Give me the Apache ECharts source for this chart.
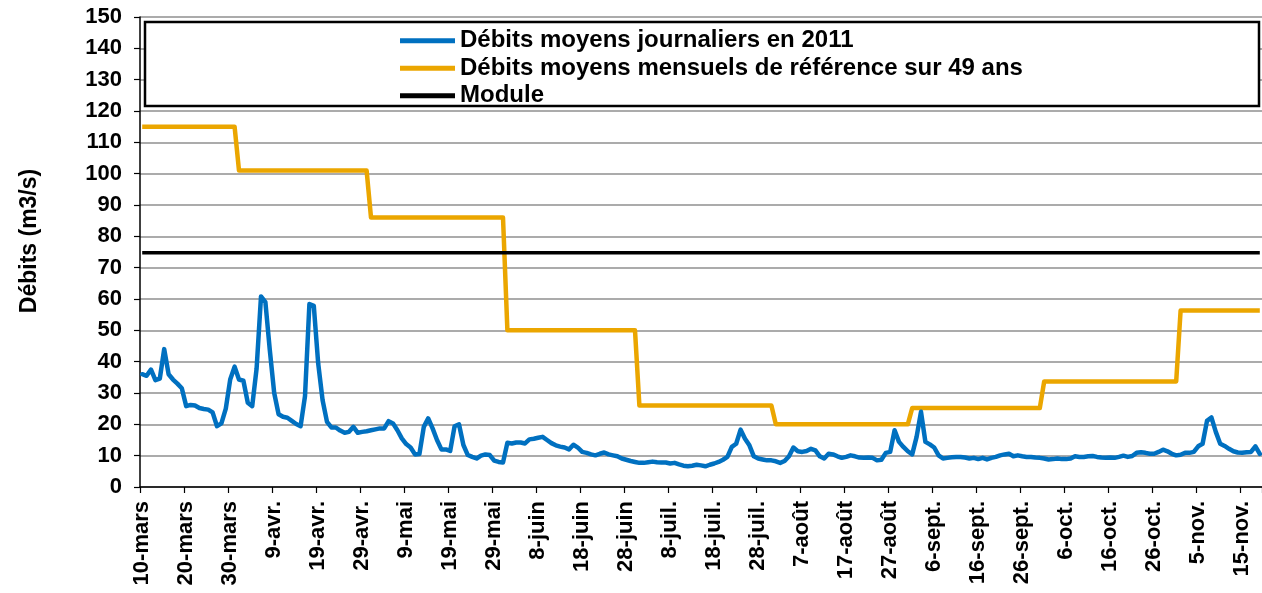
<!DOCTYPE html>
<html>
<head>
<meta charset="utf-8">
<script src="https://cdn.jsdelivr.net/npm/echarts@6/dist/echarts.min.js"></script>
<style>
html,body{margin:0;padding:0;background:#fff;}
#chart{width:1262px;height:593px;}
</style>
</head>
<body>
<div id="chart"></div>
<script>
// ---- data ----
const startYear = 2011, startMonth = 2, startDay = 10; // 10 mars 2011
const monthLabels = {2:'mars',3:'avr.',4:'mai',5:'juin',6:'juil.',7:'août',8:'sept.',9:'oct.',10:'nov.'};
// daily mean flows 2011 (m3/s), from 10 mars
const dailyFlow = [
36,35.5,37.5,34.1,34.6,44,36,34.3,33,31.5,
25.8,26.2,26,25.2,24.9,24.7,23.8,19.4,20.3,25,
34.3,38.4,34.3,33.9,26.9,25.8,37.8,60.8,59,43.7,
30,23.2,22.4,22.1,21.1,20.1,19.4,29,58.4,57.8,
39.4,27.7,20.8,19,19,18,17.3,17.6,19.2,17.3,
17.6,17.8,18.1,18.4,18.7,18.7,21,20.3,18.1,15.5,
13.7,12.6,10.4,10.5,19.2,21.9,18.7,15,12,12,
11.5,19.4,20,13.4,10.2,9.6,9.1,10,10.4,10.2,
8.4,8,7.8,14.1,13.9,14.2,14.2,13.9,15.2,15.4,
15.7,16,15,14,13.3,12.9,12.6,12,13.5,12.6,
11.2,10.9,10.4,10.1,10.6,11,10.4,10.1,9.8,9.1,
8.7,8.3,8,7.7,7.7,7.9,8.1,7.9,7.8,7.8,
7.5,7.7,7.2,6.8,6.6,6.8,7.1,6.9,6.6,7.1,
7.5,8,8.7,9.6,12.8,13.8,18.3,15.4,13.3,9.8,
9.1,8.8,8.5,8.5,8.2,7.7,8.3,9.8,12.6,11.4,
11.2,11.5,12.2,11.7,9.8,9.1,10.6,10.4,9.8,9.3,
9.6,10.1,9.8,9.4,9.3,9.4,9.3,8.5,8.7,10.9,
11.2,18.1,14.4,12.8,11.4,10.4,16,24,14.4,13.6,
12.6,10.1,9.1,9.3,9.5,9.6,9.6,9.4,9.1,9.3,
8.9,9.3,8.8,9.3,9.6,10.1,10.4,10.6,9.8,10.1,
9.8,9.6,9.6,9.4,9.3,9.1,8.8,8.9,9.1,8.9,
8.9,9.1,9.8,9.6,9.6,9.8,9.9,9.6,9.4,9.3,
9.4,9.3,9.6,10,9.6,9.9,10.9,11.1,10.9,10.6,
10.6,11.2,11.9,11.4,10.6,10.1,10.3,10.9,10.9,11.2,
13,13.8,21.1,22.2,17.6,13.8,13.1,12.2,11.4,11,
10.9,11.1,11.2,13,10.6
];
// monthly reference flows over 49 years (mars..nov)
const refMonths = [2,3,4,5,6,7,8,9,10];
const refMonthly = [115,101,86,50,26,20,25.2,33.7,56.3];
const moduleValue = 74.8;
const seriesNames = ['Débits moyens journaliers en 2011','Débits moyens mensuels de référence sur 49 ans','Module'];

// ---- build ----
const categories = [], refSeries = [], moduleSeries = [];
for (let i = 0; i < dailyFlow.length; i++) {
  const d = new Date(startYear, startMonth, startDay + i);
  categories.push(d.getDate() + '-' + monthLabels[d.getMonth()]);
  refSeries.push(refMonthly[refMonths.indexOf(d.getMonth())]);
  moduleSeries.push(moduleValue);
}

const FONT = '"Liberation Sans", Arial, sans-serif';
const chart = echarts.init(document.getElementById('chart'), null, {renderer:'canvas'});
chart.setOption({
  animation: false,
  backgroundColor: '#ffffff',
  grid: {left: 140, right: 0, top: 17, bottom: 106, containLabel: false},
  graphic: [
    {type:'rect', z: 3, shape:{x:145, y:22, width:1114, height:84},
     style:{fill:'#ffffff', stroke:'#000000', lineWidth:2.5}},
    {type:'text', z: 5, x: 30, y: 241, rotation: Math.PI/2,
     style:{text:'Débits (m3/s)', font:'bold 23px ' + FONT, fill:'#000', textAlign:'center', textVerticalAlign:'middle'}}
  ],
  legend: {
    z: 10,
    orient: 'vertical',
    left: 400, top: 27,
    padding: 0,
    itemGap: 0,
    itemWidth: 55, itemHeight: 5,
    icon: 'rect',
    textStyle: {fontFamily: FONT, fontWeight: 'bold', fontSize: 24, color: '#000', lineHeight: 27.5},
    data: seriesNames
  },
  xAxis: {
    type: 'category',
    data: categories,
    boundaryGap: true,
    axisLine: {lineStyle: {color: '#000', width: 1.5}},
    axisTick: {show: true, interval: 9, length: 6, lineStyle: {color: '#000', width: 1.2}},
    axisLabel: {interval: 9, rotate: 90, margin: 14, color: '#000', fontFamily: FONT, fontWeight: 'bold', fontSize: 22},
    splitLine: {show: false}
  },
  yAxis: {
    type: 'value',
    min: 0, max: 150, interval: 10,
    axisLine: {show: true, lineStyle: {color: '#000', width: 1.5}},
    axisTick: {show: true, length: 6, lineStyle: {color: '#000', width: 1.2}},
    axisLabel: {margin: 18, color: '#000', fontFamily: FONT, fontWeight: 'bold', fontSize: 22},
    splitLine: {show: true, lineStyle: {color: '#8f8f8f', width: 1.5}}
  },
  series: [
    {name: seriesNames[0], type: 'line', data: dailyFlow, symbol: 'none', color: '#0070C0',
     lineStyle: {width: 4.5, color: '#0070C0', join: 'round', cap: 'round'}, z: 4},
    {name: seriesNames[1], type: 'line', data: refSeries, symbol: 'none', color: '#EBA600',
     lineStyle: {width: 4.5, color: '#EBA600', join: 'round'}, z: 3},
    {name: seriesNames[2], type: 'line', data: moduleSeries, symbol: 'none', color: '#000000',
     lineStyle: {width: 3.5, color: '#000000'}, z: 3}
  ]
});
</script>
</body>
</html>
